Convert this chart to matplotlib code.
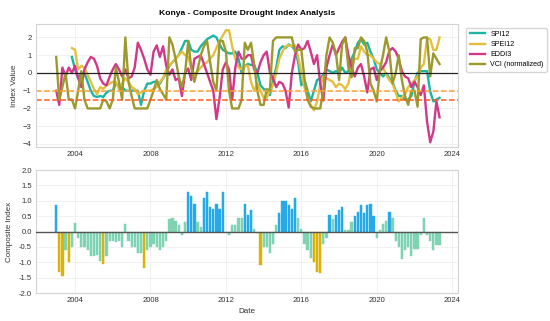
import numpy as np
import pandas as pd
import matplotlib
matplotlib.use('Agg')
import matplotlib.pyplot as plt
import matplotlib.dates as mdates

plt.rcParams['font.family'] = ['Liberation Sans', 'DejaVu Sans']

# bimonthly samples, Jan 2003 .. May 2023
dates = pd.date_range('2003-01-01', periods=123, freq='2MS')
nan = np.nan

spi12 = [nan, nan, nan, nan, nan, 0.9,
         0.2, -0.3, 0.0, 0.0, -0.5, -1.0,
         -1.3, -1.35, -1.3, -1.35, -1.1, -1.0,
         -1.0, -0.6, -0.7, -0.8, -1.0, -1.0,
         -1.0, -1.0, -1.0, -1.8, -1.0, -0.6,
         -0.6, -0.5, -0.5, -0.6, -0.3, 0.0,
         0.4, 0.6, 0.8, 1.0, 1.4, 1.8,
         1.8, 1.3, 1.2, 1.2, 1.5, 1.7,
         1.9, 2.0, 2.1, 2.0, 1.6, 1.3,
         1.2, 1.1, 1.1, 1.2, 0.8, 0.0,
         0.4, 0.5, 0.45, 0.45, 0.0, -0.7,
         -0.9, -1.0, -1.25, -0.5, 0.3, 1.3,
         1.5, 1.4, 1.6, 1.5, 1.3, 0.6,
         -0.7, -0.4, -1.0, -1.6, -1.0, -0.4,
         -0.3, -0.1, 0.2, 0.1, 0.0, 0.1,
         0.0, 0.3, 0.0, 0.1, 0.8, 1.2,
         1.7, 1.9, 1.6, 1.7, 1.2, 0.8,
         0.2, 0.0, -0.2, 0.0, -0.3, -0.5,
         -1.0, -1.3, -1.3, -1.5, -1.5, -1.3,
         -0.5, 0.0, 0.1, 0.1, 0.1, -1.05,
         -1.6, -1.5, -1.4]

spei12 = [nan, nan, nan, nan, nan, 1.4,
          1.3, 0.2, 0.4, 0.3, -0.1, -0.5,
          -0.9, -1.2, -0.8, -0.9, -0.7, -0.6,
          -0.5, -0.5, -0.9, -0.6, -0.3, -0.5,
          -0.8, -0.9, -1.2, -1.1, -1.0, -1.0,
          -1.0, -0.9, -0.8, -0.5, -0.3, 0.2,
          0.4, 0.6, 0.8, 1.0, 1.2, 1.0,
          0.9, 0.3, -0.1, 0.1, 0.3, 0.5,
          0.6, 0.8, 1.0, 1.4, 1.8, 2.1,
          2.4, 2.4, 1.5, 0.8, 0.3, 0.2,
          0.4, 0.4, -0.5, -1.0, -0.6, -1.0,
          -1.4, -1.4, -1.0, -0.7, 0.0, 0.8,
          1.2, 1.5, 1.55, 1.5, 1.55, 0.9,
          0.0, -0.8, -1.4, -1.8, -2.1, -1.6,
          -0.7, -0.2, -0.3, -0.4, -0.5, -0.8,
          -0.6, -0.7, -0.9, -0.6, 0.3, 0.8,
          0.8, 1.5, 1.2, 1.0, 1.0, 0.8,
          0.6, 0.5, 0.3, -0.1, -0.4, -0.6,
          -1.1, -1.6, -1.4, -1.2, -0.8, -0.6,
          -0.4, -0.2, 0.3, 0.5, 1.95, 1.9,
          1.3, 1.3, 2.0]

eddi3 = [-1.0, -1.8, 0.3, -0.2, 0.3, 0.0,
         0.4, -0.3, -0.8, 0.2, 0.6, 0.9,
         0.8, 0.4, -0.3, -0.6, -0.7, -0.2,
         0.2, 0.5, 0.2, -0.2, 0.2, -0.3,
         -0.2, 0.3, 1.7, 1.3, 0.8, 0.2,
         -0.1, 1.2, 1.55, 0.9, 1.5, 0.4,
         -0.1, 0.2, -0.4, -0.3, -1.3, 0.0,
         0.25, -0.4, 0.8, 0.9, 1.0, 0.5,
         0.0, -0.5, -1.0, -2.6, -1.4, 0.2,
         0.6, 0.2, -1.5, 0.3, 1.2, 0.8,
         0.8, 1.0, 1.0, 0.2, 0.0, 0.6,
         1.0, 1.2, 0.05, -0.3, -0.8, -0.5,
         -0.6, -1.0, -1.95, 0.0, 1.0, 1.6,
         1.3, 1.4, 1.8, 1.2, 0.5, 1.0,
         -0.6, -1.55, 0.3, 1.0, 1.6, 1.0,
         1.4, 1.75, 2.0, 1.0, 0.3, -0.2,
         0.3, 0.5, -0.2, -1.1, 0.2, 0.3,
         -0.4, 0.1, 0.3, 0.6, 1.25, 1.4,
         1.2, 0.8, 0.1, -0.2, -0.3, -0.8,
         -0.5, -0.8, -1.25, -0.7, -2.75, -3.9,
         -3.3, -1.6, -2.5]

vci_norm = [0.9, -1.5, -0.8, 0.0, -1.5, -1.5,
            -2.0, -1.0, 0.1, -1.5, -2.0, -2.0,
            -2.0, -2.0, -2.0, -1.5, -1.6, -2.0,
            -1.5, 0.3, -0.5, -1.5, 2.0, -0.5,
            -1.3, -2.0, -2.0, -2.0, -2.0, -2.0,
            -1.5, -1.0, -0.4, -0.9, -1.2, -1.5,
            2.0, 1.6, 0.8, -0.2, -0.8, 0.0,
            1.8, 0.3, -0.5, 0.2, 1.0, 1.5,
            1.8, 0.6, -0.5, -1.0, 1.8, 1.8,
            1.2, -1.0, -2.0, -2.0, -2.0, -1.5,
            1.7, 1.3, 1.7, 0.5, -1.0, -1.8,
            -1.8, -0.9, -1.0, 1.8, 2.0, 2.0,
            2.0, 2.0, 2.0, 2.0, 1.2, 1.3,
            1.3, -0.3, -1.5, -1.9, -2.0, -2.0,
            -2.0, -1.0, 1.0, 2.0, 1.7, 1.1,
            -0.4, 1.6, 2.0, 0.3, -0.25, 1.4,
            1.4, 2.0, 1.8, 1.2, -0.6, -1.0,
            -1.6, 0.2, 1.0, 2.0, 1.2, -0.6,
            0.0, 1.0, -0.4, -1.3, -1.8, -1.0,
            -1.0, -1.9, 1.9, 2.0, 2.0, -0.2,
            1.1, 0.8, 0.5]

composite = [0.85, -1.3, -1.45, -0.6, -1.0, -0.5,
             0.28, -0.2, -0.5, -0.5, -0.6, -0.8,
             -0.8, -0.75, -0.95, -1.05, -0.8, -0.3,
             -0.3, -0.35, -0.3, -0.5, 0.25, -0.3,
             -0.5, -0.5, -0.7, -0.7, -1.2, -0.6,
             -0.5, -0.4, -0.5, -0.6, -0.5, -0.3,
             0.4, 0.45, 0.35, 0.2, -0.1, 0.3,
             1.28, 1.15, 0.9, 0.3, 0.15, 1.1,
             1.3, 0.8, 0.75, 0.9, 0.75, 1.28,
             0.0, -0.1, 0.2, 0.2, 0.45, 0.45,
             0.9, 0.55, 0.7, 0.1, -0.05, -1.1,
             -0.5, -0.5, -0.7, -0.4, 0.2, 0.6,
             1.0, 1.0, 0.85, 0.75, 1.1, 0.45,
             0.1, -0.4, -0.6, -0.85, -1.0, -1.3,
             -1.35, -0.4, -0.2, 0.55, 0.4, 0.55,
             0.7, 0.8, 0.05, 0.05, 0.3, 0.5,
             0.65, 0.85, 0.6, 0.85, 0.9, 0.5,
             -0.2, 0.05, 0.25, 0.35, 0.65, 0.45,
             -0.3, -0.5, -0.9, -0.6, -0.5, -0.8,
             -0.55, -0.55, -0.1, 0.45, -0.1, -0.3,
             -0.6, -0.45, -0.45]

series = [('SPI12', spi12, '#1cb5a3'),
          ('SPEI12', spei12, '#e3bf3f'),
          ('EDDI3', eddi3, '#d1388a'),
          ('VCI (normalized)', vci_norm, '#9c9a2c')]

fig = plt.figure(figsize=(5.5, 3.21), dpi=100)
ax1 = fig.add_axes([0.0655, 0.542, 0.767, 0.383])
ax2 = fig.add_axes([0.0655, 0.087, 0.767, 0.383])

for ax in (ax1, ax2):
    ax.set_facecolor('white')
    ax.grid(True, color='#efefef', linewidth=0.6)
    ax.set_axisbelow(True)
    for s in ax.spines.values():
        s.set_color('#d3d3d3')
        s.set_linewidth(0.8)
    ax.tick_params(labelsize=5.5, length=0, pad=3, colors='#333333')
    ax.xaxis.set_major_locator(mdates.YearLocator(4))
    ax.xaxis.set_major_formatter(mdates.DateFormatter('%Y'))
    ax.set_xlim(pd.Timestamp('2001-12-06'), pd.Timestamp('2024-04-20'))

# top panel: the individual indices
for name, vals, col in series:
    ax1.plot(dates, vals, color=col, lw=1.7, label=name)
ax1.axhline(0, color='#222222', lw=0.9)
ax1.axhline(-1.0, color='#ffa033', lw=1.1, ls='--')
ax1.axhline(-1.5, color='#ff5a1f', lw=1.1, ls='--')
ax1.set_ylim(-4.17, 2.75)
ax1.set_yticks([-4, -3, -2, -1, 0, 1, 2])
ax1.set_ylabel('Index Value', fontsize=5.9, color='#333333')
ax1.set_title('Konya - Composite Drought Index Analysis', fontsize=6.1,
              fontweight='bold', pad=6.5)
ax1.legend(loc='upper left', bbox_to_anchor=(1.012, 1.0), fontsize=5.1,
           frameon=True, edgecolor='#cccccc', handlelength=2.1,
           borderpad=0.45, labelspacing=0.45, fancybox=True)

# bottom panel: composite bars coloured by class
comp = np.array(composite)
bar_col = np.where(comp >= 0.5, '#27a8e8', np.where(comp <= -1.0, '#d9b500', '#7fd3b3'))
bg_col = np.where(comp >= 0.5, '#c9fbff', np.where(comp <= -1.0, '#ffdff0', '#d6fbef'))
ax2.bar(dates, comp, width=62, color=bg_col, alpha=0.6, linewidth=0, zorder=1)
ax2.bar(dates, comp, width=44, color=bar_col, edgecolor=bar_col, linewidth=0.3, zorder=2)
ax2.axhline(0, color='#555555', lw=1.0, zorder=3)
ax2.set_ylim(-2.0, 2.0)
ax2.set_yticks(np.arange(-2.0, 2.01, 0.5))
ax2.yaxis.set_major_formatter(matplotlib.ticker.FormatStrFormatter('%.1f'))
ax2.set_ylabel('Composite Index', fontsize=5.8, color='#333333')
ax2.set_xlabel('Date', fontsize=5.8, color='#333333', labelpad=3)

fig.savefig('out.png', dpi=100)
